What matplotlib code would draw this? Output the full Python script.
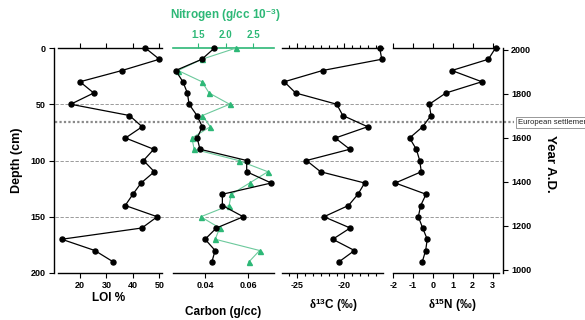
import matplotlib
matplotlib.use("Agg")
import matplotlib.pyplot as plt
from matplotlib.ticker import MultipleLocator, FixedLocator

plt.rcParams['font.family'] = ['Liberation Sans', 'DejaVu Sans']
plt.rcParams['font.weight'] = 'bold'
plt.rcParams['axes.unicode_minus'] = False
plt.rcParams['mathtext.fontset'] = 'custom'
plt.rcParams['mathtext.rm'] = 'Liberation Serif'
plt.rcParams['mathtext.it'] = 'Liberation Serif:italic'
plt.rcParams['mathtext.bf'] = 'Liberation Sans:bold'

# ---------------- data ----------------
depth = [0, 10, 20, 30, 40, 50, 60, 70, 80, 90, 100, 110, 120, 130, 140, 150, 160, 170, 180, 190]
loi = [44.7, 50.0, 35.9, 20.0, 25.2, 16.5, 38.7, 43.5, 37.2, 47.9,
       44.0, 48.1, 43.1, 40.0, 37.1, 49.2, 43.4, 13.1, 25.6, 32.5]
carbon = [0.0443, 0.0384, 0.0261, 0.0295, 0.0316, 0.0324, 0.0361, 0.0386, 0.0362, 0.0375,
          0.0594, 0.0594, 0.0709, 0.0480, 0.0480, 0.0578, 0.0452, 0.0399, 0.0446, 0.0431]
nitrogen = [2.19, 1.57, 1.14, 1.57, 1.70, 2.07, 1.58, 1.72, 1.39, 1.43,
            2.23, 2.76, 2.43, 2.10, 2.06, 1.55, 1.89, 1.81, 2.61, 2.42]
d13c = [-16.28, -16.06, -22.30, -26.34, -25.14, -20.81, -20.17, -17.55, -20.96, -19.43,
        -24.00, -22.51, -17.87, -18.57, -19.57, -22.16, -19.39, -21.23, -18.94, -20.56]
d15n = [3.15, 2.79, 0.95, 2.46, 0.65, -0.19, -0.10, -0.52, -1.18, -0.84,
        -0.67, -0.59, -1.90, -0.35, -0.62, -0.74, -0.52, -0.29, -0.37, -0.54]
depth_ticks = [0, 50, 100, 150, 200]
year_ticks = [1000, 1200, 1400, 1600, 1800, 2000]
grid_depths = [50, 100, 150]
settlement_depth = 66
settlement_label = "European settlement"

GREEN = '#2db877'
GREEN_LINE = '#6cc99c'
W, H = 585.0, 320.0
TOP, BOT = 48.0, 273.0

fig = plt.figure(figsize=(5.85, 3.2), dpi=100)

def px_axes(x0, x1):
    return fig.add_axes([x0 / W, 1 - BOT / H, (x1 - x0) / W, (BOT - TOP) / H])

ax1 = px_axes(58, 162)
ax2 = px_axes(173.3, 274)
ax3 = px_axes(282, 383.3)
ax4 = px_axes(393.3, 498.5)

tick_kw = dict(labelsize=6.5, width=0.8, length=3.5, pad=2.5, direction='out')

for ax in (ax1, ax2, ax3, ax4):
    ax.set_ylim(200, 0)
    ax.set_facecolor('none')
    for s in ('left', 'right'):
        ax.spines[s].set_visible(False)
    ax.spines['top'].set_linewidth(1.0)
    ax.spines['bottom'].set_linewidth(1.0)
    ax.tick_params(axis='x', which='both', top=True, bottom=True, labeltop=False, labelbottom=True, **tick_kw)
    ax.tick_params(axis='x', which='minor', length=2.5)
    ax.tick_params(axis='y', which='both', left=False, right=False, labelleft=False, labelright=False)

# left depth spine on panel 1
ax1.spines['left'].set_visible(True)
ax1.spines['left'].set_position(('outward', 3))
ax1.spines['left'].set_linewidth(1.0)
ax1.yaxis.set_major_locator(FixedLocator(depth_ticks))
ax1.tick_params(axis='y', left=True, labelleft=True, **tick_kw)

line_kw = dict(color='black', lw=0.9, marker='o', ms=3.6, clip_on=False, zorder=5)

# Panel 1: LOI
ax1.plot(loi, depth, **line_kw)
ax1.set_xlim(11.7, 51.0)
ax1.xaxis.set_major_locator(FixedLocator([20, 30, 40, 50]))

# Panel 2: Carbon + Nitrogen
ax2.set_xlim(0.025, 0.0722)
ax2.xaxis.set_major_locator(FixedLocator([0.04, 0.06]))
ax2.xaxis.set_major_formatter(plt.FuncFormatter(lambda v, p: f"{v:.2f}"))
ax2.tick_params(axis='x', top=False)
ax2.spines['top'].set_visible(False)
ax2n = ax2.twiny()
ax2n.set_ylim(200, 0)
for s in ('left', 'right', 'bottom'):
    ax2n.spines[s].set_visible(False)
ax2n.spines['top'].set_color(GREEN)
ax2n.spines['top'].set_linewidth(1.2)
ax2n.set_xlim(1.054, 2.87)
ax2n.xaxis.set_major_locator(FixedLocator([1.5, 2.0, 2.5]))
ax2n.xaxis.set_major_formatter(plt.FuncFormatter(lambda v, p: f"{v:.1f}"))
ax2n.tick_params(axis='x', top=True, labeltop=True, bottom=False, labelbottom=False,
                 colors=GREEN, labelsize=7, width=0.8, length=3.5, pad=2.5, direction='out')
ax2n.tick_params(axis='y', which='both', left=False, right=False, labelleft=False, labelright=False)
ax2.tick_params(axis='y', which='both', left=False, right=False, labelleft=False, labelright=False)
ax2n.plot(nitrogen, depth, color=GREEN_LINE, lw=0.8, marker='^', ms=3.6,
          mfc=GREEN, mec=GREEN, clip_on=False, zorder=4)
ax2.plot(carbon, depth, **line_kw)
ax2.set_zorder(ax2n.get_zorder() + 1)

# Panel 3: d13C
ax3.plot(d13c, depth, **line_kw)
ax3.set_xlim(-26.58, -15.9)
ax3.xaxis.set_major_locator(FixedLocator([-25, -20]))
ax3.xaxis.set_minor_locator(MultipleLocator(5 / 6))

# Panel 4: d15N
ax4.plot(d15n, depth, **line_kw)
ax4.set_xlim(-2.0, 3.3)
ax4.xaxis.set_major_locator(MultipleLocator(1))

# Year axis
axy = ax4.twinx()
axy.set_facecolor('none')
axy.set_ylim(986, 2009)
for s in ('left', 'top', 'bottom'):
    axy.spines[s].set_visible(False)
axy.spines['right'].set_position(('outward', 3))
axy.spines['right'].set_linewidth(1.0)
axy.yaxis.set_major_locator(FixedLocator(year_ticks))
axy.tick_params(axis='y', left=False, labelleft=False, right=True, labelright=True, **tick_kw)
axy.tick_params(axis='x', top=False, bottom=False, labeltop=False, labelbottom=False)
ax4.tick_params(axis='y', which='both', left=False, right=False, labelleft=False, labelright=False)

# horizontal reference lines
w1 = 162 - 58
for d in grid_depths:
    ax1.axhline(d, xmin=-3 / w1, xmax=(502 - 58) / w1, color='#8a8a8a', lw=0.6,
                ls=(0, (4, 2)), clip_on=False, zorder=1)
ax1.axhline(settlement_depth, xmin=-3 / w1, xmax=(514 - 58) / w1, color='#8a8a8a', lw=1.6,
            ls=(0, (1, 1)), clip_on=False, zorder=1)
fig.text(518 / W, 1 - 122.5 / H, settlement_label, fontsize=5.6, fontweight='normal',
         va='center', ha='left', color='#222222',
         bbox=dict(boxstyle='square,pad=0.25', fc='white', ec='#888888', lw=0.6))

# axis labels
fig.text(17 / W, 1 - 160 / H, 'Depth (cm)', rotation=90, fontsize=9, va='center', ha='center')
fig.text(109 / W, 1 - 298 / H, 'LOI %', fontsize=8.5, va='center', ha='center')
fig.text(223 / W, 1 - 312 / H, 'Carbon (g/cc)', fontsize=8.5, va='center', ha='center')
fig.text(333 / W, 1 - 305 / H, r'$\mathrm{\delta}^{\mathbf{13}}$C (‰)', fontsize=8.5,
         va='center', ha='center')
fig.text(452 / W, 1 - 305 / H, r'$\mathrm{\delta}^{\mathbf{15}}$N (‰)', fontsize=8.5,
         va='center', ha='center')
fig.text(225 / W, 1 - 15 / H, r'Nitrogen (g/cc 10$^{\mathbf{-3}}$)', fontsize=8.5,
         color=GREEN, va='center', ha='center')
fig.text(550 / W, 1 - 164 / H, 'Year A.D.', rotation=270, fontsize=9.5, va='center', ha='center')

fig.savefig('out.png', dpi=100)
